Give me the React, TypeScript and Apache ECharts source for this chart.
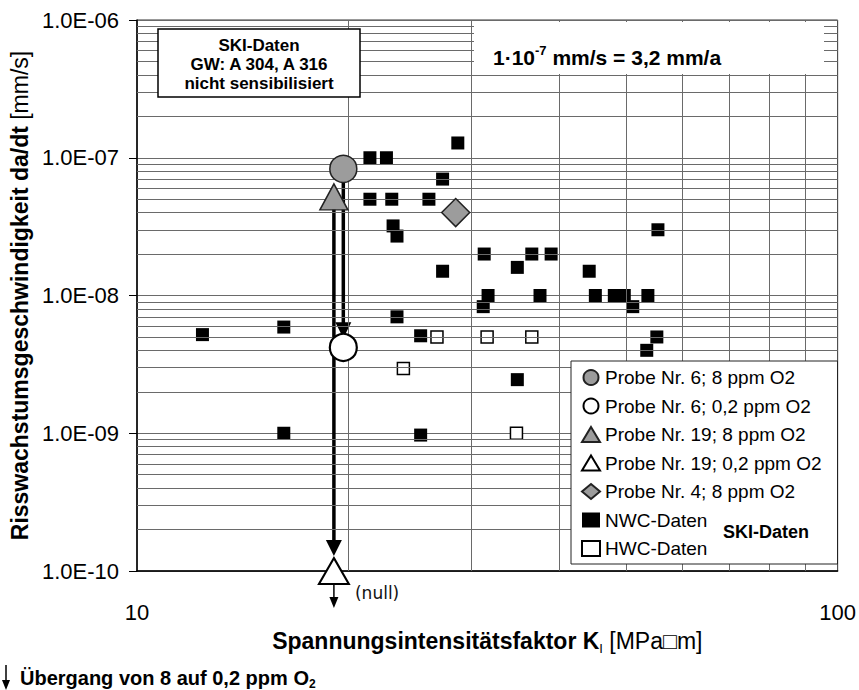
import React, { useEffect, useRef } from "react";
import * as echarts from "echarts";

const FONT = "'Liberation Sans', Arial, sans-serif";

// ---- data (K in MPa·√m, da/dt in mm/s) ----
const probe6_8ppm = [[19.7, 8.3e-8]];
const probe6_02ppm = [[19.7, 4.2e-9]];
const probe19_8ppm = [[19.1, 5.2e-8]];
const probe19_02ppm = [[19.1, 1e-10]]; // "(null)" — at lower limit
const probe4_8ppm = [[28.5, 4.0e-8]];

const nwcK = [12.4, 16.2, 16.2, 21.5, 22.7, 21.5, 23.1, 23.2, 23.5, 23.5, 25.4, 25.4, 26.1, 27.3, 28.7, 27.3, 31.3, 31.7, 31.2, 34.9, 36.6, 37.6, 39.0, 34.9, 44.2, 45.1, 48.0, 49.6, 51.0, 53.6, 55.4, 55.2, 53.4];
const nwcRate = [5.2e-9, 5.9e-9, 1.0e-9, 1.0e-7, 1.0e-7, 5.0e-8, 5.0e-8, 3.2e-8, 2.7e-8, 7.0e-9, 5.1e-9, 9.7e-10, 5.0e-8, 7.0e-8, 1.28e-7, 1.5e-8, 2.0e-8, 1.0e-8, 8.3e-9, 1.6e-8, 2.0e-8, 1.0e-8, 2.0e-8, 2.45e-9, 1.5e-8, 1.0e-8, 1.0e-8, 1.0e-8, 8.3e-9, 1.0e-8, 3.0e-8, 5.0e-9, 4.0e-9];

const hwcK = [24.0, 26.8, 31.6, 36.6, 34.8];
const hwcRate = [2.95e-9, 5.0e-9, 5.0e-9, 5.0e-9, 1.0e-9];

// transition arrows (8 ppm -> 0,2 ppm O2)
const arrowProbe6 = [[19.7, 8.3e-8], [19.7, 5.6e-9]];
const arrowProbe19 = [[19.1, 5.2e-8], [19.1, 1.47e-10]];
const arrowNull = [[19.1, 1e-10], [19.1, 5.9e-11]];

// axis ticks / grid
const xRange = [10, 100];
const yRange = [1e-10, 1e-6];
const xMinorTicks = [20, 30, 40, 50, 60, 70, 80, 90];
const yDecades = [-10, -9, -8, -7];
const yMultipliers = [2, 3, 4, 5, 6, 7, 8, 9];

const legendNames = [
  "Probe Nr. 6; 8 ppm O2",
  "Probe Nr. 6; 0,2 ppm O2",
  "Probe Nr. 19; 8 ppm O2",
  "Probe Nr. 19; 0,2 ppm O2",
  "Probe Nr. 4; 8 ppm O2",
  "NWC-Daten",
  "HWC-Daten",
];

const zip = (a: number[], b: number[]) => a.map((v, i) => [v, b[i]]);

function arrowData(pts: number[][], size: number[]) {
  return [
    { value: pts[0], symbol: "none" },
    { value: pts[1], symbol: "triangle", symbolRotate: 180, symbolSize: size },
  ];
}

export default function App() {
  const ref = useRef<HTMLDivElement>(null);
  useEffect(() => {
    const chart = echarts.init(ref.current!, null, { renderer: "svg" });

    const yMinor: number[] = [];
    yDecades.forEach((e) => yMultipliers.forEach((m) => yMinor.push(m * Math.pow(10, e))));
    const gridLineStyle = { color: "#6a6a6a", width: 1, type: "solid" };

    const gray = "#9c9c9c";

    const option: any = {
      animation: false,
      backgroundColor: "#fff",
      textStyle: { fontFamily: FONT },
      grid: {
        left: 137,
        right: 20,
        top: 20,
        bottom: 119,
        show: true,
        borderColor: "#333",
        borderWidth: 1,
        backgroundColor: "transparent",
      },
      xAxis: {
        type: "log",
        logBase: 10,
        min: xRange[0],
        max: xRange[1],
        axisLine: { show: true, lineStyle: { color: "#000", width: 1.5 } },
        axisTick: { show: false },
        splitLine: { show: false },
        axisLabel: {
          fontSize: 22,
          color: "#000",
          fontFamily: FONT,
          margin: 30,
          formatter: (v: number) => String(Math.round(v)),
        },
        name: "{b|Spannungsintensitätsfaktor K}{sub|I}{r| [MPa□m]}",
        nameLocation: "middle",
        nameGap: 56,
        nameTextStyle: {
          rich: {
            b: { fontSize: 23, fontWeight: "bold", fontFamily: FONT, color: "#000", lineHeight: 28 },
            sub: { fontSize: 13, fontFamily: FONT, color: "#000", verticalAlign: "bottom", lineHeight: 22 },
            r: { fontSize: 23, fontFamily: FONT, color: "#000", lineHeight: 28 },
          },
        },
      },
      yAxis: {
        type: "log",
        logBase: 10,
        min: yRange[0],
        max: yRange[1],
        axisLine: { show: true, lineStyle: { color: "#000", width: 1.5 } },
        axisTick: { show: true, length: 8, lineStyle: { color: "#000" } },
        splitLine: { show: true, lineStyle: gridLineStyle },
        axisLabel: {
          fontSize: 22,
          color: "#000",
          fontFamily: FONT,
          margin: 18,
          formatter: (v: number) => {
            const e = Math.round(Math.log10(v));
            return "1.0E-" + String(-e).padStart(2, "0");
          },
        },
        name: "{b|Risswachstumsgeschwindigkeit da/dt }{r|[mm/s]}",
        nameLocation: "middle",
        nameRotate: 90,
        nameGap: 102,
        nameTextStyle: {
          rich: {
            b: { fontSize: 23, fontWeight: "bold", fontFamily: FONT, color: "#000" },
            r: { fontSize: 23, fontFamily: FONT, color: "#000" },
          },
        },
      },
      legend: {
        orient: "vertical",
        left: 571,
        top: 361,
        data: legendNames,
        selectedMode: false,
        itemWidth: 18,
        itemHeight: 15,
        itemGap: 9.5,
        padding: [7, 16, 6, 10],
        backgroundColor: "#fff",
        borderColor: "#222",
        borderWidth: 1,
        borderRadius: 0,
        textStyle: { fontSize: 19, fontFamily: FONT, color: "#000" },
        z: 8,
      },
      graphic: [
        {
          type: "rect",
          z: 10,
          shape: { x: 474, y: 22, width: 350, height: 52 },
          style: { fill: "#fff" },
        },
        {
          type: "text",
          z: 11,
          x: 493,
          y: 57,
          style: {
            text: "{n|1·10}{s|-7}{n| mm/s = 3,2 mm/a}",
            verticalAlign: "middle",
            rich: {
              n: { fontSize: 21, fontWeight: "bold", fontFamily: FONT, fill: "#000", lineHeight: 26 },
              s: { fontSize: 13, fontWeight: "bold", fontFamily: FONT, fill: "#000", verticalAlign: "top", lineHeight: 26 },
            },
          },
        },
        {
          type: "rect",
          z: 10,
          shape: { x: 158, y: 29, width: 202, height: 68 },
          style: { fill: "#fff", stroke: "#000", lineWidth: 1.5 },
        },
        {
          type: "text",
          z: 11,
          x: 259,
          y: 64,
          style: {
            text: "SKI-Daten\nGW: A 304, A 316\nnicht sensibilisiert",
            align: "center",
            verticalAlign: "middle",
            lineHeight: 19,
            font: `bold 17px ${FONT}`,
            fill: "#000",
          },
        },
        {
          type: "text",
          z: 12,
          x: 723,
          y: 532,
          style: {
            text: "SKI-Daten",
            verticalAlign: "middle",
            font: `bold 18px ${FONT}`,
            fill: "#000",
          },
        },
        {
          type: "line",
          z: 11,
          shape: { x1: 6, y1: 665, x2: 6, y2: 684 },
          style: { stroke: "#000", lineWidth: 1.5 },
        },
        {
          type: "polygon",
          z: 11,
          shape: { points: [[2, 680], [10, 680], [6, 690]] },
          style: { fill: "#000" },
        },
        {
          type: "text",
          z: 11,
          x: 20,
          y: 678,
          style: {
            text: "{b|Übergang von 8 auf 0,2 ppm O}{s|2}",
            verticalAlign: "middle",
            rich: {
              b: { fontSize: 20, fontWeight: "bold", fontFamily: FONT, fill: "#000", lineHeight: 24 },
              s: { fontSize: 12, fontWeight: "bold", fontFamily: FONT, fill: "#000", verticalAlign: "bottom", lineHeight: 20 },
            },
          },
        },
      ],
      series: [
        {
          name: "grid",
          type: "scatter",
          z: 1,
          silent: true,
          symbolSize: 0,
          data: [[xRange[0], yRange[0]]],
          markLine: {
            silent: true,
            symbol: ["none", "none"],
            label: { show: false },
            lineStyle: gridLineStyle,
            emphasis: { disabled: true },
            data: [
              ...xMinorTicks.map((v) => [{ coord: [v, yRange[0]] }, { coord: [v, yRange[1]] }]),
              ...yMinor.map((v) => [{ coord: [xRange[0], v] }, { coord: [xRange[1], v] }]),
            ],
          },
        },
        {
          name: "arrow6",
          type: "line",
          z: 3,
          silent: true,
          data: arrowData(arrowProbe6, [16, 16]),
          lineStyle: { color: "#000", width: 3.5 },
          itemStyle: { color: "#000", opacity: 1 },
        },
        {
          name: "arrow19",
          type: "line",
          z: 3,
          silent: true,
          data: arrowData(arrowProbe19, [16, 16]),
          lineStyle: { color: "#000", width: 3.5 },
          itemStyle: { color: "#000", opacity: 1 },
        },
        {
          name: "arrowNull",
          type: "line",
          z: 3,
          silent: true,
          clip: false,
          data: arrowData(arrowNull, [9, 11]),
          lineStyle: { color: "#000", width: 1.5 },
          itemStyle: { color: "#000", opacity: 1 },
        },
        {
          name: "NWC-Daten",
          type: "scatter",
          z: 4,
          symbol: "rect",
          symbolSize: 13,
          itemStyle: { color: "#000", opacity: 1 },
          data: zip(nwcK, nwcRate),
        },
        {
          name: "HWC-Daten",
          type: "scatter",
          z: 4,
          symbol: "rect",
          symbolSize: 12,
          itemStyle: { color: "#fff", borderColor: "#000", borderWidth: 1.5, opacity: 1 },
          data: zip(hwcK, hwcRate),
        },
        {
          name: "Probe Nr. 6; 8 ppm O2",
          type: "scatter",
          z: 5,
          symbol: "circle",
          symbolSize: 27,
          itemStyle: { color: gray, borderColor: "#222", borderWidth: 1.5, opacity: 1 },
          data: probe6_8ppm,
        },
        {
          name: "Probe Nr. 6; 0,2 ppm O2",
          type: "scatter",
          z: 5,
          symbol: "circle",
          symbolSize: 27,
          itemStyle: { color: "#fff", borderColor: "#000", borderWidth: 2.2, opacity: 1 },
          data: probe6_02ppm,
        },
        {
          name: "Probe Nr. 19; 8 ppm O2",
          type: "scatter",
          z: 5,
          symbol: "triangle",
          symbolSize: [28, 26],
          itemStyle: { color: gray, borderColor: "#222", borderWidth: 1.5, opacity: 1 },
          data: probe19_8ppm,
        },
        {
          name: "Probe Nr. 19; 0,2 ppm O2",
          type: "scatter",
          z: 5,
          symbol: "triangle",
          symbolSize: [30, 26],
          itemStyle: { color: "#fff", borderColor: "#000", borderWidth: 2, opacity: 1 },
          label: {
            show: true,
            position: "right",
            offset: [0, 22],
            formatter: "(null)",
            fontSize: 17,
            fontFamily: "'DejaVu Sans', sans-serif",
            color: "#111",
          },
          data: probe19_02ppm,
        },
        {
          name: "Probe Nr. 4; 8 ppm O2",
          type: "scatter",
          z: 5,
          symbol: "diamond",
          symbolSize: [28, 28],
          itemStyle: { color: gray, borderColor: "#222", borderWidth: 1.5, opacity: 1 },
          data: probe4_8ppm,
        },
      ],
    };

    chart.setOption(option);
    return () => chart.dispose();
  }, []);

  return (
    <div
      ref={ref}
      style={{ position: "absolute", left: 0, top: 0, width: 859, height: 690 }}
    />
  );
}
